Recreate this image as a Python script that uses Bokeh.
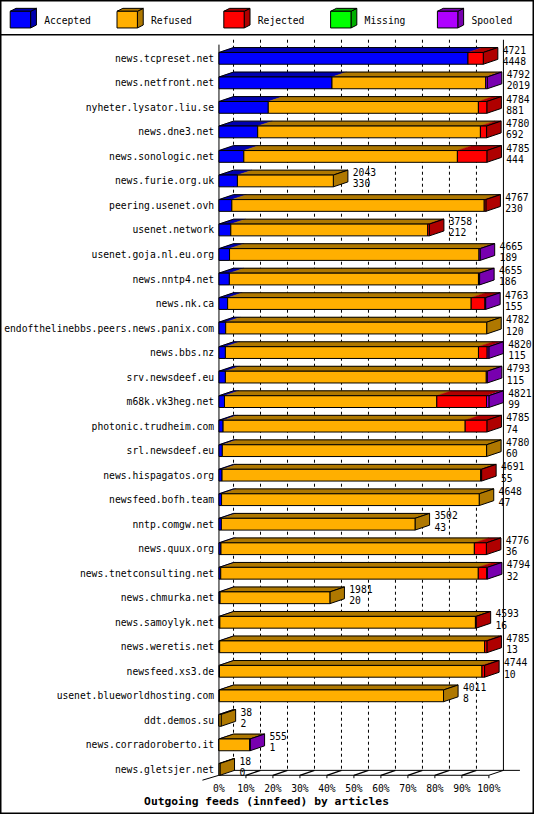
from bokeh.plotting import figure
from bokeh.models import Range1d, ColumnDataSource
from bokeh.core.properties import value
from bokeh.embed import file_html
from bokeh.resources import INLINE

# ---------------- data ----------------
feeds = [
    "news.tcpreset.net", "news.netfront.net", "nyheter.lysator.liu.se", "news.dne3.net",
    "news.sonologic.net", "news.furie.org.uk", "peering.usenet.ovh", "usenet.network",
    "usenet.goja.nl.eu.org", "news.nntp4.net", "news.nk.ca",
    "endofthelinebbs.peers.news.panix.com", "news.bbs.nz", "srv.newsdeef.eu",
    "m68k.vk3heg.net", "photonic.trudheim.com", "srl.newsdeef.eu", "news.hispagatos.org",
    "newsfeed.bofh.team", "nntp.comgw.net", "news.quux.org", "news.tnetconsulting.net",
    "news.chmurka.net", "news.samoylyk.net", "news.weretis.net", "newsfeed.xs3.de",
    "usenet.blueworldhosting.com", "ddt.demos.su", "news.corradoroberto.it", "news.gletsjer.net",
]
totals = [4721, 4792, 4784, 4780, 4785, 2043, 4767, 3758, 4665, 4655, 4763, 4782, 4820, 4793,
          4821, 4785, 4780, 4691, 4648, 3502, 4776, 4794, 1981, 4593, 4785, 4744, 4011, 38, 555, 18]
accepted = [4448, 2019, 881, 692, 444, 330, 230, 212, 189, 186, 155, 120, 115, 115,
            99, 74, 60, 55, 47, 43, 36, 32, 20, 16, 13, 10, 8, 2, 1, 0]
refused = [0, 2745, 3753, 3978, 3815, 1713, 4508, 3517, 4456, 4449, 4350, 4662, 4520, 4660,
           3792, 4324, 4720, 4619, 4601, 3459, 4526, 4600, 1961, 4565, 4732, 4688, 4003, 36, 549, 18]
rejected = [273, 0, 150, 110, 526, 0, 29, 29, 0, 0, 246, 0, 156, 0,
            890, 387, 0, 17, 0, 0, 214, 150, 0, 12, 40, 46, 0, 0, 0, 0]
missing = [0, 0, 0, 0, 0, 0, 0, 0, 0, 0, 0, 0, 0, 0,
           0, 0, 0, 0, 0, 0, 0, 0, 0, 0, 0, 0, 0, 0, 0, 0]
spooled = [0, 28, 0, 0, 0, 0, 0, 0, 20, 20, 12, 0, 29, 18,
           40, 0, 0, 0, 0, 0, 0, 12, 0, 0, 0, 0, 0, 0, 5, 0]

series_names = ["Accepted", "Refused", "Rejected", "Missing", "Spooled"]
front_colors = ["#0000FF", "#FFAF00", "#FF0000", "#00FF00", "#AF00FF"]
dark_colors = ["#0000AF", "#AF7800", "#AF0000", "#00AF00", "#7800AF"]
pct_ticks = [0, 10, 20, 30, 40, 50, 60, 70, 80, 90, 100]
title_text = "Outgoing feeds (innfeed) by articles"

# ---------------- layout (reference pixels) ----------------
W, H = 534, 814
REF_W, REF_H = 550, 830
SX, SY = W / REF_W, H / REF_H
X0, PX100 = 225, 278          # x of 0 %, pixels for 100 %
Y0, ROW = 59, 25              # first row centre, row pitch
DEPTH_X, DEPTH_Y = 15, 5      # 3D depth of bars
HALF = 6                      # half height of bar front


def fx(px):
    return (px - X0) / PX100 * 100.0


def fy(py):
    return (py - Y0) / ROW


DX = DEPTH_X / PX100 * 100.0
DY = DEPTH_Y / ROW
HH = HALF / ROW
FONT = value("DejaVu Sans Mono")
FS = value(f"{10 * SX:.1f}px")
FS_T = value(f"{11.6 * SX:.1f}px")

p = figure(width=W, height=H, x_range=Range1d(fx(0), fx(REF_W)),
           y_range=Range1d(fy(REF_H), fy(0)), output_backend="svg",
           toolbar_location=None, min_border=0, x_axis_type=None, y_axis_type=None)
p.outline_line_color = "black"
p.outline_line_width = 2
p.background_fill_color = "white"
p.border_fill_color = "white"

n = len(feeds)
MAX = max(totals)
floor_front = (n - 1) + HH
floor_back = floor_front - DY
top_back = fy(40)

# ---------------- back grid / floor ----------------
gx0 = [k + DX for k in pct_ticks[:-1]]
p.segment(x0=gx0, y0=[top_back] * len(gx0), x1=gx0, y1=[floor_back] * len(gx0),
          line_color="black", line_width=1, line_dash="3 3")
p.segment(x0=[100 + DX, 0], y0=[top_back, fy(45)], x1=[100 + DX, 0], y1=[floor_back, floor_front],
          line_color="black", line_width=1)
# floor lines
p.segment(x0=[0, 100, DX, fx(208)], y0=[floor_front, floor_front, floor_back, floor_front + DY],
          x1=[100, 100 + DX, fx(535), 0], y1=[floor_front, floor_back, floor_back, floor_front],
          line_color="black", line_width=1)
tk = pct_ticks[1:]
p.segment(x0=tk, y0=[floor_front] * len(tk), x1=tk, y1=[floor_front + 3 / ROW] * len(tk),
          line_color="black", line_width=1)
tk2 = pct_ticks[1:-1]
p.segment(x0=tk2, y0=[floor_front] * len(tk2), x1=[t + DX for t in tk2], y1=[floor_back] * len(tk2),
          line_color="black", line_width=1.3)

# ---------------- bars ----------------
tops = dict(xs=[], ys=[], c=[])
fronts = dict(l=[], r=[], t=[], b=[], c=[])
sides = dict(xs=[], ys=[], c=[])
outl = dict(xs=[], ys=[])
for i in range(n):
    vals = [accepted[i], refused[i], rejected[i], missing[i], spooled[i]]
    x = 0.0
    last = 1
    yt, yb = i - HH, i + HH
    for s, v in enumerate(vals):
        if v <= 0:
            continue
        w = v / MAX * 100.0
        x0, x1 = x, x + w
        tops["xs"].append([x0, x1, x1 + DX, x0 + DX])
        tops["ys"].append([yt, yt, yt - DY, yt - DY])
        tops["c"].append(dark_colors[s])
        fronts["l"].append(x0); fronts["r"].append(x1)
        fronts["t"].append(yt); fronts["b"].append(yb)
        fronts["c"].append(front_colors[s])
        x = x1
        last = s
    sides["xs"].append([x, x + DX, x + DX, x])
    sides["ys"].append([yt, yt - DY, yb - DY, yb])
    sides["c"].append(dark_colors[last])
    outl["xs"].append([0, x, x + DX, DX])
    outl["ys"].append([yt, yt, yt - DY, yt - DY])

p.patches(xs="xs", ys="ys", fill_color="c", line_color="c", line_width=0.5,
          source=ColumnDataSource(tops))
p.patches(xs="xs", ys="ys", fill_color=None, line_color="black", line_width=1,
          source=ColumnDataSource(outl))
p.patches(xs="xs", ys="ys", fill_color="c", line_color="black", line_width=1,
          source=ColumnDataSource(sides))
p.quad(left="l", right="r", top="t", bottom="b", fill_color="c", line_color="black",
       line_width=1, source=ColumnDataSource(fronts))

# ---------------- labels ----------------
rows = list(range(n))
p.text(x=[0] * n, y=rows, text=feeds, x_offset=-5 * SX, text_align="right",
       text_baseline="middle", text_font=FONT, text_font_size=FS, text_color="black")
lx = [t / MAX * 100.0 + DX + fx(X0 + 5) for t in totals]
p.text(x=lx, y=[r - 9 / ROW for r in rows], text=[str(t) for t in totals],
       text_align="left", text_baseline="middle", text_font=FONT, text_font_size=FS)
p.text(x=lx, y=[r + 2.5 / ROW for r in rows], text=[str(a) for a in accepted],
       text_align="left", text_baseline="middle", text_font=FONT, text_font_size=FS)
p.text(x=pct_ticks, y=[fy(803)] * len(pct_ticks), text=[f"{t}%" for t in pct_ticks],
       text_align="center", text_baseline="middle", text_font=FONT, text_font_size=FS)
p.text(x=[fx(274)], y=[fy(817)], text=[title_text], text_align="center",
       text_baseline="middle", text_font=FONT, text_font_size=FS_T, text_font_style="bold")

# ---------------- legend ----------------
p.segment(x0=[fx(0)], y0=[fy(35)], x1=[fx(REF_W)], y1=[fy(35)], line_color="black", line_width=1.5)
lg_front = dict(l=[], r=[], t=[], b=[], c=[])
lg_side = dict(xs=[], ys=[], c=[])
for j, name in enumerate(series_names):
    a, b = 10 + j * 110, 31 + j * 110
    t, bo = 11, 28
    lg_front["l"].append(fx(a)); lg_front["r"].append(fx(b))
    lg_front["t"].append(fy(t)); lg_front["b"].append(fy(bo))
    lg_front["c"].append(front_colors[j])
    lg_side["xs"].append([fx(b), fx(b + 6), fx(b + 6), fx(b)])
    lg_side["ys"].append([fy(t), fy(t - 3), fy(bo - 3), fy(bo)])
    lg_side["c"].append(dark_colors[j])
    lg_side["xs"].append([fx(a), fx(b), fx(b + 6), fx(a + 6)])
    lg_side["ys"].append([fy(t), fy(t), fy(t - 3), fy(t - 3)])
    lg_side["c"].append(dark_colors[j])
p.patches(xs="xs", ys="ys", fill_color="c", line_color="black", line_width=1,
          source=ColumnDataSource(lg_side))
p.quad(left="l", right="r", top="t", bottom="b", fill_color="c", line_color="black",
       line_width=1, source=ColumnDataSource(lg_front))
p.text(x=[fx(45 + j * 110) for j in range(len(series_names))], y=[fy(20)] * len(series_names),
       text=series_names, text_align="left", text_baseline="middle", text_font=FONT,
       text_font_size=FS)

open("out.html", "w").write(file_html(p, INLINE))
